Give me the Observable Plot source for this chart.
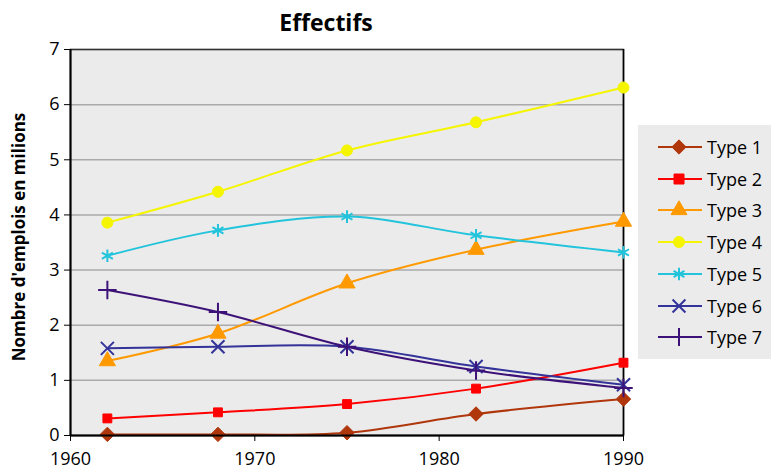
<!DOCTYPE html>
<html>
<head>
<meta charset="utf-8">
<script src="https://cdn.jsdelivr.net/npm/d3@7"></script>
<script src="https://cdn.jsdelivr.net/npm/@observablehq/plot@0.6"></script>
<style>
  html, body { margin: 0; padding: 0; background: #fff; }
  #wrap { position: relative; width: 771px; height: 470px; overflow: hidden; font-family: "Open Sans", sans-serif; }
  #title { position: absolute; left: 0; width: 652px; top: 6px; text-align: center; font-weight: bold; font-size: 23px; }
  #ylab { position: absolute; left: 18px; top: 237px; transform: translate(-50%, -50%) rotate(-90deg); white-space: nowrap; font-weight: bold; font-size: 17px; }
  #legend { position: absolute; left: 638px; top: 125px; width: 140px; height: 234px; background: #ebebeb; }
  .row { position: absolute; left: 0; height: 24px; display: flex; align-items: center; font-size: 18px; }
  .row svg { margin-left: 18px; margin-right: 5px; }
  #chart svg g[aria-label="x-axis tick label"] text, #chart svg g[aria-label="y-axis tick label"] text { font-size: 18px; }
</style>
</head>
<body>
<div id="wrap">
  <div id="chart"></div>
  <div id="title">Effectifs</div>
  <div id="ylab">Nombre d'emplois en milions</div>
  <div id="legend"></div>
</div>
<script>
const years = [1962, 1968, 1975, 1982, 1990];
const seriesNames = ["Type 1", "Type 2", "Type 3", "Type 4", "Type 5", "Type 6", "Type 7"];
const type1 = [0.02, 0.02, 0.05, 0.39, 0.66];
const type2 = [0.31, 0.42, 0.57, 0.85, 1.32];
const type3 = [1.35, 1.85, 2.76, 3.37, 3.88];
const type4 = [3.86, 4.42, 5.17, 5.68, 6.31];
const type5 = [3.26, 3.72, 3.97, 3.63, 3.32];
const type6 = [1.58, 1.61, 1.61, 1.25, 0.92];
const type7 = [2.64, 2.24, 1.61, 1.18, 0.86];
const seriesValues = [type1, type2, type3, type4, type5, type6, type7];
const colors = ["#b0360c", "#ff0000", "#ff9900", "#f5f500", "#22c4dc", "#333399", "#3d1278"];
const symbols = ["diamond2", "square", "triangle", "circle", "asterisk", "times", "plus"];
const xTicks = [1960, 1970, 1980, 1990];
const yTicks = [0, 1, 2, 3, 4, 5, 6, 7];

const data = [];
seriesNames.forEach((s, i) => years.forEach((yr, j) => data.push({series: s, year: yr, value: seriesValues[i][j]})));

const filled = new Set(["diamond2", "square", "triangle", "circle"]);

const chart = Plot.plot({
  width: 771, height: 470,
  marginLeft: 70, marginRight: 148, marginTop: 49, marginBottom: 35,
  style: {fontFamily: "Open Sans, sans-serif", fontSize: "18px", color: "#000", background: "transparent"},
  x: {domain: [1960, 1990]},
  y: {domain: [0, 7]},
  color: {domain: seriesNames, range: colors},
  symbol: {domain: seriesNames, range: symbols},
  marks: [
    Plot.frame({fill: "#ebebeb"}),
    Plot.gridY(yTicks, {stroke: "#aaaaaa", strokeOpacity: 1, strokeWidth: 1.5}),
    Plot.frame({stroke: "#333", strokeWidth: 1.5}),
    Plot.ruleX([1960], {stroke: "#000", strokeWidth: 2}),
    Plot.ruleX([1990], {stroke: "#000", strokeWidth: 1.5}),
    Plot.line(data, {x: "year", y: "value", z: "series", stroke: "series", strokeWidth: 2, curve: "catmull-rom"}),
    ...seriesNames.map((s, i) => Plot.dot(data.filter(d => d.series === s), {
      x: "year", y: "value", symbol: "series",
      fill: filled.has(symbols[i]) ? colors[i] : "none",
      stroke: colors[i], strokeWidth: filled.has(symbols[i]) ? 1 : 2,
      r: symbols[i] === "circle" ? 5.5 : (symbols[i] === "diamond2" ? 6.5 : (symbols[i] === "square" ? 5 : 6))
    })),
    Plot.ruleY([0], {stroke: "#000", strokeWidth: 2}),
    Plot.axisX(xTicks, {tickSize: 6, tickPadding: 11, tickFormat: d => String(d), label: null, stroke: "#000", fontSize: 18}),
    Plot.axisY(yTicks, {tickSize: 6, tickPadding: 5, tickFormat: d => String(d), label: null, stroke: "#000", fontSize: 18})
  ]
});
document.getElementById("chart").appendChild(chart);

// legend
const legend = document.getElementById("legend");
seriesNames.forEach((s, i) => {
  const row = document.createElement("div");
  row.className = "row";
  row.style.top = (22 + i * 31.7 - 12) + "px";
  const sym = symbols[i];
  const path = d3.symbol(
    {diamond2: d3.symbolDiamond2, square: d3.symbolSquare, triangle: d3.symbolTriangle, circle: d3.symbolCircle,
     asterisk: d3.symbolAsterisk, times: d3.symbolTimes, plus: d3.symbolPlus}[sym],
    sym === "circle" ? 95 : (sym === "diamond2" ? 130 : (sym === "square" ? 100 : 110))
  )();
  const isFilled = filled.has(sym);
  row.innerHTML = `<svg width="46" height="24"><line x1="2" x2="46" y1="12" y2="12" stroke="${colors[i]}" stroke-width="2"/>
    <path d="${path}" transform="translate(23,12)" fill="${isFilled ? colors[i] : "none"}" stroke="${colors[i]}" stroke-width="${isFilled ? 1 : 2}"/></svg><span>${s}</span>`;
  legend.appendChild(row);
});
</script>
</body>
</html>
